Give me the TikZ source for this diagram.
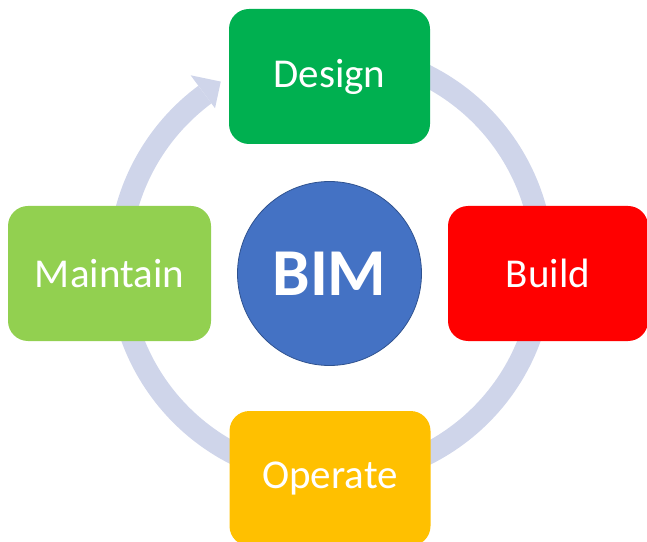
\documentclass[tikz,border=0pt]{standalone}
\usepackage{fontspec}
\setmainfont{Carlito}
\usepackage{xcolor}
\usetikzlibrary{calc}
\usetikzlibrary{math}

\definecolor{ringgrey}{HTML}{CFD5EA}
\definecolor{designgreen}{HTML}{00B050}
\definecolor{buildred}{HTML}{FF0000}
\definecolor{maintgreen}{HTML}{92D050}
\definecolor{operateyellow}{HTML}{FFC000}
\definecolor{bimblue}{HTML}{4472C4}
\definecolor{bimedge}{HTML}{2F528F}

\begin{document}
\begin{tikzpicture}[x=1pt,y=1pt,
    stage/.style={rectangle, rounded corners=20pt, minimum width=201pt,
      minimum height=135pt, inner sep=0pt, text=white,
      font=\fontsize{41}{41}\selectfont},
    hub/.style={circle, minimum size=184pt, inner sep=0pt, fill=bimblue,
      draw=bimedge, line width=0.8pt, text=white,
      font=\fontsize{67}{67}\selectfont\bfseries}]

  \tikzmath{
    \ringradius = 212;   % radius of the middle of the cycle band
    \ringwidth  = 22;    % width of the band
    \startdeg   = 80;    % band starts behind Design
    \enddeg     = -233.5; % band ends at the arrow head
    \tipdeg     = 121;   % angle of the arrow tip
    \wingdeg    = 126.5; % angle of the arrow head base
  }

  \useasboundingbox (0,0) rectangle (647,541);

  % centre of the cycle
  \coordinate (O) at (331,276);

  % cycle band
  \draw[ringgrey, line width=\ringwidth pt]
    ($ (O) + (\startdeg:\ringradius) $) arc[start angle=\startdeg, end angle=\enddeg, radius=\ringradius];

  % arrow head
  \fill[ringgrey] ($ (O) + (\wingdeg:236) $) -- ($ (O) + (\tipdeg:214) $)
    -- ($ (O) + (\wingdeg:195) $) -- cycle;

  % stages
  \node[stage, fill=designgreen]   (design)   at (329.5,464.5) {Design};
  \node[stage, fill=buildred, minimum width=200pt] (build) at (548,267.5) {Build};
  \node[stage, fill=operateyellow] (operate)  at (330,62.5)   {Operate};
  \node[stage, fill=maintgreen, minimum width=203pt] (maintain) at (109.5,267.5) {Maintain};

  % centre
  \node[hub] (bim) at (329.5,267.5) {BIM};

\end{tikzpicture}
\end{document}
